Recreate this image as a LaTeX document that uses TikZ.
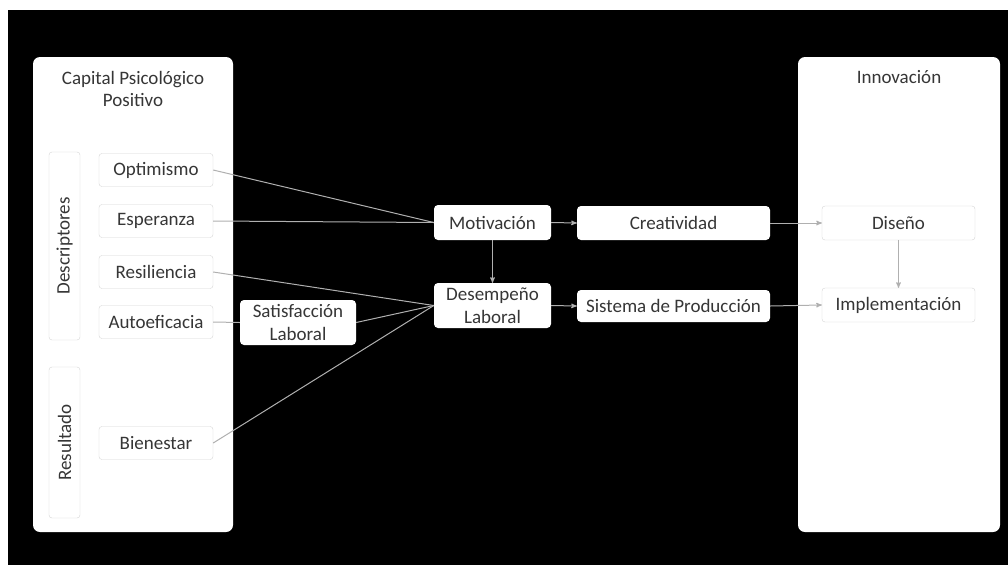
\documentclass[tikz,border=0pt]{standalone}
\usepackage{fontspec}
\setmainfont{Carlito}
\usepackage{tikz}
\usetikzlibrary{arrows}

\definecolor{txt}{HTML}{363636}
\definecolor{lnk}{HTML}{B0B0B0}
\definecolor{edge}{HTML}{D6D6D6}

\tikzset{
  big/.style={fill=white, rounded corners=7pt, minimum width=#1, minimum height=475pt, inner sep=0pt},
  inbox/.style={draw=edge, fill=white, rounded corners=3pt, text=txt, inner sep=0pt},
  wbox/.style={fill=white, rounded corners=4pt, text=txt, inner sep=0pt, align=center},
  link/.style={draw=lnk, line width=1pt},
  arr/.style={link, -stealth'}
}

\begin{document}
\begin{tikzpicture}[x=1pt, y=-1pt, font=\fontsize{19}{22.5}\selectfont]

\useasboundingbox (0,0) rectangle (1008,565);
\fill [white] (0,0) rectangle (1008,565);
\fill [black] (8,10) rectangle (1008,565);

% outer boxes
\node [big=200pt] (cpp) at (133,294.5) {};
\node [big=202pt] (inn) at (899,294.5) {};
\node [text=txt, align=center] (cpptit) at (133,89) {Capital Psicológico\\Positivo};
\node [text=txt] (inntit) at (899,77) {Innovación};

\node [inbox, minimum width=31pt, minimum height=188pt] (desc) at (64.5,246)
  {\rotatebox{90}{Descriptores}};
\node [inbox, minimum width=31pt, minimum height=151pt] (res) at (64.5,442.5)
  {\rotatebox{90}{Resultado}};

\foreach \n/\t/\y in {opt/Optimismo/170, esp/Esperanza/221, resi/Resiliencia/272, auto/Autoeficacia/322, bien/Bienestar/443}
  \node [inbox, minimum width=114pt, minimum height=33pt] (\n) at (156,\y) {\t};

\node [wbox, minimum width=116pt, minimum height=45pt] (sat) at (298,322.5) {Satisfacción\\Laboral};
\node [wbox, minimum width=117pt, minimum height=35pt] (mot) at (492.5,222.5) {Motivación};
\node [wbox, minimum width=117pt, minimum height=45pt] (des) at (492.5,305.5) {Desempeño\\Laboral};
\node [wbox, minimum width=193pt, minimum height=34pt] (cre) at (673.5,223) {Creatividad};
\node [wbox, minimum width=193pt, minimum height=32pt] (sis) at (673.5,306) {Sistema de Producción};

\node [inbox, minimum width=153pt, minimum height=34pt] (dis) at (898.5,223) {Diseño};
\node [inbox, minimum width=153pt, minimum height=34pt] (imp) at (898.5,305) {Implementación};

% connections
\draw [link] (opt.east) -- (mot.west);
\draw [link] (esp.east) -- (mot.west);
\draw [link] (resi.east) -- (des.west);
\draw [link] (auto.east) -- (sat.west);
\draw [link] (sat.east) -- (des.west);
\draw [link] (bien.east) -- (des.west);

\draw [arr] (mot.south) -- (des.north);
\draw [arr] (mot.east) -- (cre.west);
\draw [arr] (des.east) -- (sis.west);
\draw [arr] (cre.east) -- (dis.west);
\draw [arr] (sis.east) -- (imp.west);
\draw [arr] (dis.south) -- (imp.north);

\end{tikzpicture}
\end{document}
